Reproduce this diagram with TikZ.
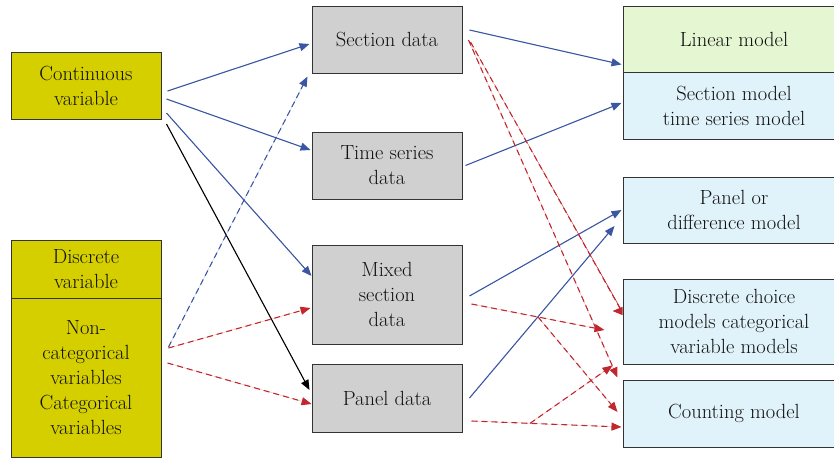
\documentclass[tikz,border=0pt]{standalone}
\usetikzlibrary{arrows.meta,calc}
\definecolor{ylw}{HTML}{D5CF00}
\definecolor{gry}{HTML}{D0D0D0}
\definecolor{grn}{HTML}{E5F6D2}
\definecolor{lbl}{HTML}{E1F3FA}
\definecolor{bord}{HTML}{333333}
\definecolor{txt}{HTML}{111111}
\definecolor{arblue}{HTML}{3B57A3}
\definecolor{arred}{HTML}{C1272D}
\tikzset{
  box/.style={draw=bord, line width=1pt, align=center, inner sep=0pt, text=txt,
    font=\rmfamily\fontsize{20.5}{25}\selectfont},
  ybox/.style={box, fill=ylw, minimum width=150pt},
  gbox/.style={box, fill=gry, minimum width=150pt},
  rbox/.style={box, fill=lbl, minimum width=222pt},
  tipA/.style={-{Triangle[length=10pt,width=8pt]}},
  blu/.style={tipA, draw=arblue, fill=arblue, line width=1.1pt},
  blk/.style={tipA, draw=black, fill=black, line width=1.1pt},
  bdash/.style={blu, dash pattern=on 6pt off 4pt},
  rdash/.style={tipA, draw=arred, fill=arred, line width=1.1pt, dash pattern=on 6pt off 4pt},
}
\begin{document}
\begin{tikzpicture}[x=1pt,y=-1pt]
\useasboundingbox (0,0) rectangle (834,458);
\clip (0,0) rectangle (834,458);
% left
\node[ybox, minimum height=67pt] (cont) at (86,85.5) {Continuous\\variable};
\node[ybox, minimum height=58pt] (discA) at (86,269) {Discrete\\variable};
\node[ybox, minimum height=159pt] (discB) at (86,377.5) {Non-\\categorical\\variables\\Categorical\\variables};
% middle
\node[gbox, minimum height=67pt] (sec) at (387,39.5) {Section data};
\node[gbox, minimum height=67pt] (ts) at (387,165.5) {Time series\\data};
\node[gbox, minimum height=99pt] (ms) at (387,294.5) {Mixed\\section\\data};
\node[gbox, minimum height=68pt] (pd) at (387,398) {Panel data};
% right
\node[rbox, fill=grn, minimum height=66pt] (lin) at (734,39) {Linear model};
\node[rbox, minimum height=67pt] (secm) at (734,105.5) {Section model\\time series model};
\node[rbox, minimum height=66pt] (pm) at (734,210) {Panel or\\difference model};
\node[rbox, minimum height=85pt] (dc) at (734,321.5) {Discrete choice\\models categorical\\variable models};
\node[rbox, minimum height=67pt] (cnt) at (734,413.5) {Counting model};
% left -> middle
\draw[blu] ([xshift=6pt,yshift=-5.5pt]cont.east) -- ([xshift=-2pt,yshift=-4.5pt]sec.west);
\draw[blu] ([xshift=5pt,yshift=-13.5pt]cont.east) -- ([xshift=-1pt,yshift=15.5pt]ts.west);
\draw[blu] ([xshift=5pt,yshift=-27.5pt]cont.east) -- ([yshift=18.5pt]ms.west);
\draw[blk] ([xshift=5pt,yshift=-38.5pt]cont.east) -- ([xshift=-2pt,yshift=8pt]pd.west);
\draw[bdash] ([xshift=7pt,yshift=30.5pt]discB.east) -- ([xshift=-4pt,yshift=-3pt]sec.south west);
\draw[rdash] ([xshift=7pt,yshift=29.5pt]discB.east) -- ([xshift=-1pt,yshift=-13.5pt]ms.west);
\draw[rdash] ([xshift=6pt,yshift=14.5pt]discB.east) -- ([yshift=-6pt]pd.west);
% middle -> right (blue)
\draw[blu] ([xshift=7pt,yshift=9.5pt]sec.east) -- ([xshift=-1pt,yshift=8pt]lin.south west);
\draw[blu] ([xshift=3pt]ts.east) -- ([xshift=-1pt,yshift=2.5pt]secm.west);
\draw[blu] ([xshift=7pt,yshift=-1.5pt]ms.east) -- ([xshift=-1pt]pm.west);
\draw[blu] ([xshift=7pt]pd.east) -- ([xshift=-8pt,yshift=-16pt]pm.west);
% middle -> right (red dashed)
\draw[rdash] ([xshift=6pt,yshift=-0.5pt]sec.east) -- ([xshift=-5pt,yshift=2pt]cnt.north west);
\draw[rdash] ([xshift=8pt,yshift=-2.5pt]sec.east) -- ([xshift=-1pt,yshift=10.5pt]dc.west) -- ([xshift=-10pt,yshift=10.5pt]dc.west);
\coordinate (msA) at ([xshift=9pt,yshift=-9.5pt]ms.east);
\coordinate (msB) at ([xshift=-18pt,yshift=-8.5pt]dc.west);
\coordinate (msC) at ($(msA)!0.5!(msB)$);
\draw[rdash] (msA) -- (msB);
\draw[rdash] (msC) -- ([xshift=-5pt,yshift=1.5pt]cnt.west);
\coordinate (pdA) at ([xshift=9pt,yshift=-23pt]pd.east);
\coordinate (pdB) at ([xshift=-1pt,yshift=-13.5pt]cnt.west);
\coordinate (pdC) at ($(pdA)!0.39!(pdB)$);
\draw[rdash] (pdA) -- (pdB);
\draw[rdash] (pdC) -- ([xshift=-10pt,yshift=-1pt]dc.south west);
\end{tikzpicture}
\end{document}
